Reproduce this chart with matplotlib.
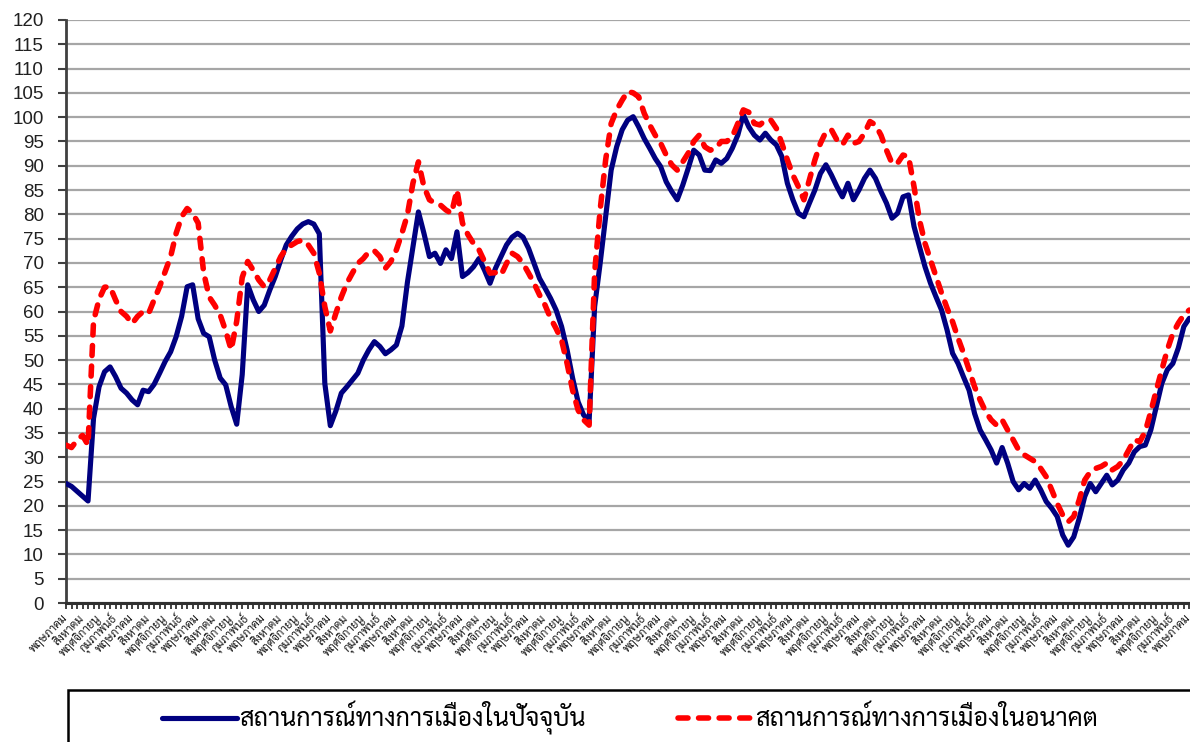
import numpy as np
import matplotlib
matplotlib.use('Agg')
import matplotlib.pyplot as plt
from matplotlib.patches import Rectangle

# monthly index values, May -> May (17 years)
current = [24.6, 24.0, 23.0, 22.0, 21.0, 38.0, 44.5, 47.6, 48.6, 46.6,
           44.2, 43.2, 41.8, 40.8, 43.8, 43.5, 45.0, 47.3, 49.7, 51.7,
           54.8, 59.0, 65.1, 65.5, 58.5, 55.5, 54.8, 50.0, 46.3, 44.9,
           40.4, 36.8, 47.0, 65.5, 62.4, 60.0, 61.3, 64.4, 67.2, 70.6,
           73.7, 75.5, 77.0, 78.0, 78.5, 78.0, 76.0, 45.2, 36.5, 39.5,
           43.2, 44.5, 45.9, 47.3, 50.0, 52.1, 53.8, 52.8, 51.3, 52.1,
           53.1, 57.0, 66.0, 73.3, 80.5, 76.1, 71.3, 72.0, 69.9, 72.7,
           70.9, 76.4, 67.2, 68.0, 69.2, 70.9, 68.5, 65.8, 68.9, 71.3,
           73.7, 75.3, 76.1, 75.3, 73.0, 69.9, 66.8, 64.8, 62.7, 60.3,
           56.9, 52.1, 46.3, 41.4, 38.7, 37.5, 61.0, 69.9, 79.5, 89.1,
           93.9, 97.4, 99.4, 100.1, 98.0, 95.6, 93.6, 91.5, 89.8, 86.7,
           84.7, 83.0, 86.0, 89.5, 93.2, 92.2, 89.1, 89.0, 91.2, 90.5,
           91.5, 93.6, 96.3, 100.5, 98.0, 96.3, 95.3, 96.7, 95.3, 94.3,
           91.9, 86.4, 83.0, 80.2, 79.5, 82.3, 85.0, 88.4, 90.2, 88.1,
           85.7, 83.6, 86.4, 83.0, 85.0, 87.4, 89.1, 87.4, 84.7, 82.3,
           79.2, 80.2, 83.6, 84.0, 77.5, 73.3, 69.2, 65.8, 63.0, 60.3,
           56.2, 51.4, 49.3, 46.5, 43.8, 39.0, 35.6, 33.6, 31.5, 28.8,
           32.0, 28.8, 25.0, 23.3, 24.6, 23.6, 25.3, 23.3, 20.9, 19.5,
           17.8, 14.0, 11.9, 13.6, 17.4, 21.9, 24.6, 22.9, 24.6, 26.3,
           24.3, 25.3, 27.4, 28.8, 31.1, 32.2, 32.5, 35.6, 40.4, 45.2,
           48.0, 49.3, 52.5, 56.9, 58.6]

future = [32.5, 32.0, 33.5, 34.5, 32.5, 58.0, 62.5, 65.0, 65.1, 62.4,
          60.0, 59.0, 57.5, 59.0, 60.0, 59.6, 62.4, 65.1, 68.2, 71.3,
          76.1, 79.5, 81.2, 80.2, 78.2, 68.0, 63.0, 61.3, 59.3, 56.0,
          52.1, 58.0, 67.0, 70.3, 68.5, 66.5, 65.1, 66.5, 68.9, 71.3,
          73.0, 73.7, 74.4, 74.7, 73.7, 72.0, 67.9, 61.0, 56.0, 59.6,
          63.0, 65.8, 67.9, 69.9, 70.9, 72.3, 72.5, 71.3, 68.9, 70.3,
          72.7, 76.1, 79.9, 86.4, 90.8, 85.7, 83.0, 82.3, 81.9, 80.9,
          80.2, 85.0, 78.2, 75.8, 74.0, 72.7, 70.3, 67.9, 68.0, 67.5,
          69.9, 72.0, 71.3, 69.9, 67.9, 65.8, 63.4, 61.3, 58.6, 56.5,
          54.1, 49.3, 43.8, 39.7, 37.7, 36.6, 68.0, 80.9, 91.2, 98.7,
          101.5, 103.5, 105.3, 105.0, 104.2, 100.8, 98.4, 96.3, 94.6, 92.2,
          90.2, 89.1, 90.8, 92.6, 95.0, 96.3, 93.9, 93.2, 93.6, 95.0,
          95.0, 96.0, 98.7, 101.5, 101.0, 98.7, 98.4, 99.4, 99.4, 97.7,
          94.6, 91.2, 88.1, 85.7, 83.0, 87.1, 91.2, 94.6, 97.0, 97.4,
          95.3, 94.3, 96.3, 94.6, 95.0, 96.7, 99.1, 98.4, 96.3, 93.2,
          90.5, 90.5, 92.2, 91.9, 85.7, 78.8, 74.0, 70.6, 67.2, 63.8,
          60.7, 57.9, 54.5, 51.4, 48.0, 44.5, 41.8, 39.4, 37.7, 36.6,
          37.7, 35.6, 33.6, 31.5, 30.5, 29.8, 29.1, 27.7, 26.0, 23.3,
          20.5, 18.1, 16.7, 17.8, 21.2, 25.3, 27.0, 27.7, 28.1, 28.8,
          27.4, 28.1, 29.4, 31.5, 33.6, 33.2, 35.3, 39.4, 43.8, 48.0,
          52.1, 55.5, 57.6, 59.3, 60.3]

month_names = ['พฤษภาคม', 'สิงหาคม', 'พฤศจิกายน', 'กุมภาพันธ์']
series_names = ['สถานการณ์ทางการเมืองในปัจจุบัน', 'สถานการณ์ทางการเมืองในอนาคต']

plt.rcParams['font.family'] = ['Sarabun', 'Loma', 'DejaVu Sans']

n = len(current)
x = np.arange(n)

fig = plt.figure(figsize=(11.9, 7.42), dpi=100)
ax = fig.add_axes([66 / 1190, 139 / 742, 1125 / 1190, 583 / 742])

l1, = ax.plot(x, current, color='#000080', lw=3.7, solid_joinstyle='round',
              solid_capstyle='round', label=series_names[0], zorder=3)
l2, = ax.plot(x, future, color='#FF0000', lw=4.0, dashes=(1.8, 1.9),
              dash_capstyle='round', label=series_names[1], zorder=4)

ax.set_xlim(0, n - 1 + 0.3)
ax.set_ylim(0, 120)
ax.set_yticks(np.arange(0, 121, 5))
ax.yaxis.grid(True, color='#A6A6A6', lw=1.6)
ax.set_axisbelow(True)
for lbl in ax.get_yticklabels():
    lbl.set_fontfamily(['Liberation Sans', 'DejaVu Sans'])
ax.tick_params(axis='y', length=6, width=1.5, color='#404040', labelsize=13.5,
               pad=10, labelcolor='#202020')

# a tick per month, a label every third month
xlabels = [month_names[(i // 3) % 4] if i % 3 == 0 else '' for i in range(n)]
ax.set_xticks(x)
ax.set_xticklabels(xlabels, rotation=45, ha='right', va='center',
                   rotation_mode='anchor', fontsize=8.2, color='#1a1a1a')
ax.tick_params(axis='x', length=4, width=1.2, color='#202020', pad=6)

for s in ['top', 'right']:
    ax.spines[s].set_visible(False)
ax.spines['left'].set_color('#404040')
ax.spines['left'].set_linewidth(2)
ax.spines['bottom'].set_color('#303030')
ax.spines['bottom'].set_linewidth(2.2)

# legend box runs past the right/bottom edge like the original
fig.patches.append(Rectangle((68 / 1190, -0.05), 1.0, 0.05 + 1 - 690 / 742,
                             transform=fig.transFigure, fill=False,
                             edgecolor='black', lw=1.8))
leg = fig.legend(handles=[l1, l2], loc='center left', ncol=2,
                 bbox_to_anchor=(142 / 1190, 1 - 718 / 742),
                 fontsize=18, frameon=False, handlelength=3.0,
                 handletextpad=0.08, borderpad=0.3, columnspacing=3.7)

fig.savefig('out.png', dpi=100)
